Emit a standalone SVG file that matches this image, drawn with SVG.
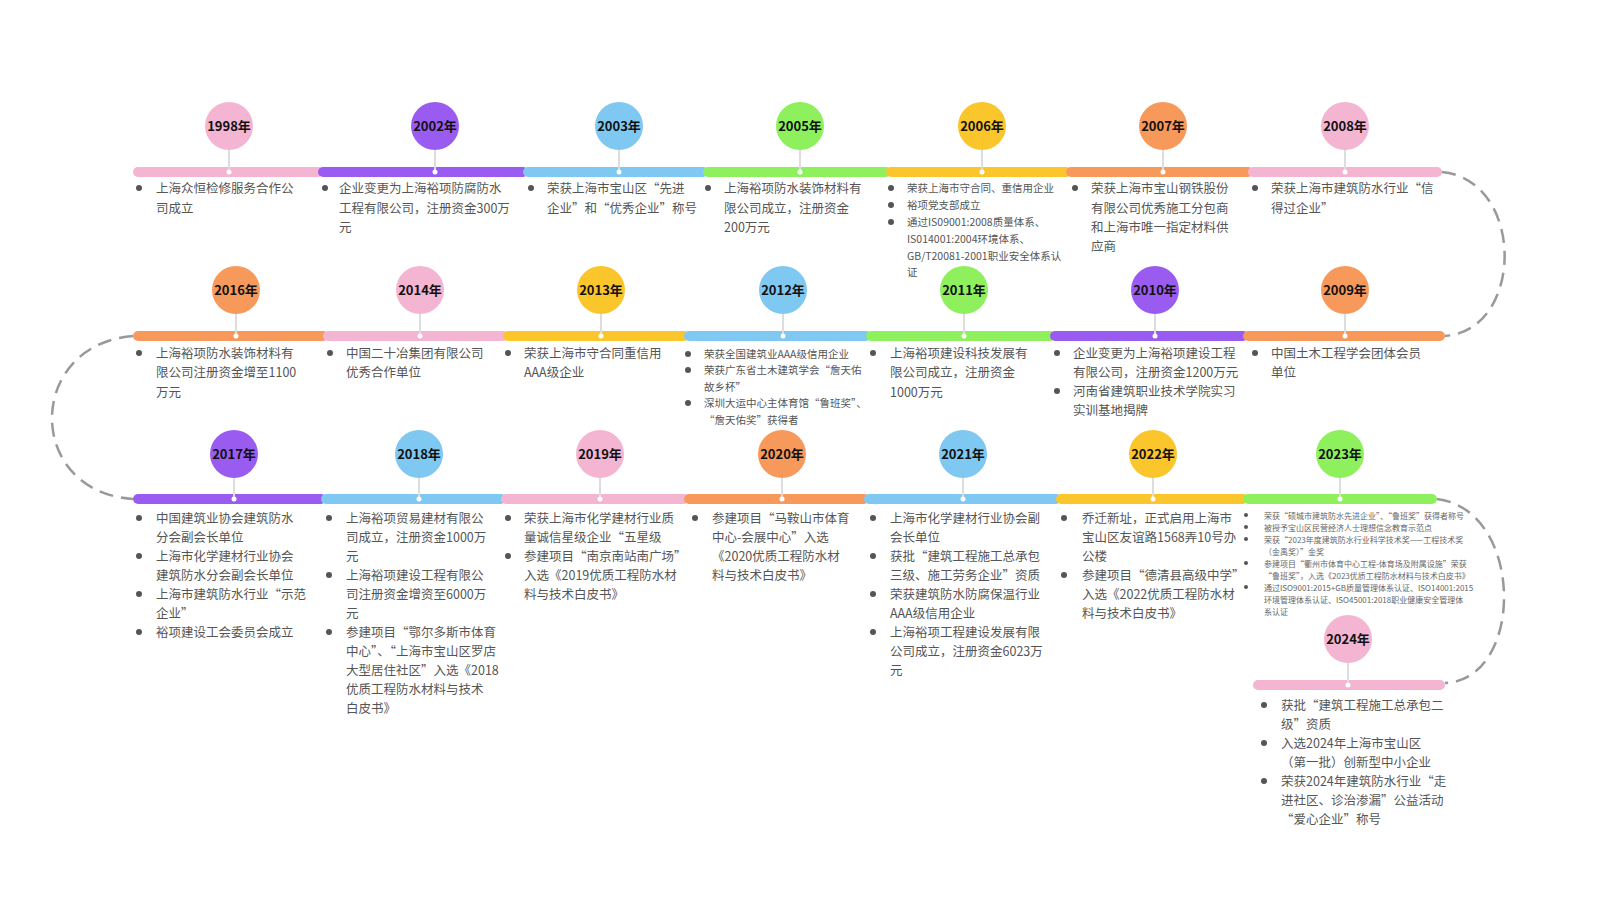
<svg xmlns="http://www.w3.org/2000/svg" width="1600" height="900" viewBox="0 0 1600 900">
<style>
.t{font-family:"Noto Sans CJK SC","Liberation Sans",sans-serif;font-size:12.5px;fill:#555}
.s{font-family:"Noto Sans CJK SC","Liberation Sans",sans-serif;font-size:10.5px;fill:#555}
.xs{font-family:"Noto Sans CJK SC","Liberation Sans",sans-serif;font-size:8px;fill:#666}
.y{font-family:"Noto Sans CJK SC","Liberation Sans",sans-serif;font-size:13px;font-weight:bold;fill:#111;text-anchor:middle}
.b{fill:#555}
.st{stroke:#ddd;stroke-width:2}
.d{fill:#fff}
.pk{fill:#f4b5d2}.pu{fill:#9a5cf0}.bl{fill:#7ec8f2}.gr{fill:#8ef05c}.ye{fill:#fbc52c}.or{fill:#f8995c}
</style>
<rect width="1600" height="900" fill="#fff"/>
<g id="connectors" fill="none" stroke="#999" stroke-width="2.5" stroke-dasharray="14 8">
<path d="M1442 172 C1525 180 1525 330 1445 336"/>
<path d="M133 336 C25 345 25 492 133 499"/>
<path d="M1437 499 C1525 510 1525 680 1445 683"/>
</g>
<g id="bars">
<rect class="pk" x="133" y="167" width="190" height="10" rx="5"/>
<rect class="pu" x="318" y="167" width="210" height="10" rx="5"/>
<rect class="bl" x="523" y="167" width="185" height="10" rx="5"/>
<rect class="gr" x="703" y="167" width="188" height="10" rx="5"/>
<rect class="ye" x="886" y="167" width="185" height="10" rx="5"/>
<rect class="or" x="1066" y="167" width="187" height="10" rx="5"/>
<rect class="pk" x="1248" y="167" width="194" height="10" rx="5"/>
<rect class="or" x="133" y="331" width="195" height="10" rx="5"/>
<rect class="pk" x="323" y="331" width="185" height="10" rx="5"/>
<rect class="ye" x="503" y="331" width="186" height="10" rx="5"/>
<rect class="bl" x="684" y="331" width="187" height="10" rx="5"/>
<rect class="gr" x="866" y="331" width="189" height="10" rx="5"/>
<rect class="pu" x="1050" y="331" width="198" height="10" rx="5"/>
<rect class="or" x="1243" y="331" width="202" height="10" rx="5"/>
<rect class="pu" x="133" y="494" width="193" height="10" rx="5"/>
<rect class="bl" x="321" y="494" width="185" height="10" rx="5"/>
<rect class="pk" x="501" y="494" width="188" height="10" rx="5"/>
<rect class="or" x="684" y="494" width="185" height="10" rx="5"/>
<rect class="bl" x="864" y="494" width="197" height="10" rx="5"/>
<rect class="ye" x="1056" y="494" width="192" height="10" rx="5"/>
<rect class="gr" x="1243" y="494" width="194" height="10" rx="5"/>
<rect class="pk" x="1253" y="680" width="192" height="10" rx="5"/>
</g>
<g id="n1998"><line class="st" x1="229" y1="150" x2="229" y2="172"/><circle class="pk" cx="229" cy="126" r="24"/><circle class="d" cx="229" cy="172" r="2.5"/><text class="y" x="229" y="131">1998年</text>
<circle class="b" cx="139" cy="188" r="3"/><text class="t" x="156" y="193">上海众恒检修服务合作公</text><text class="t" x="156" y="213">司成立</text></g>
<g id="n2002"><line class="st" x1="435" y1="150" x2="435" y2="172"/><circle class="pu" cx="435" cy="126" r="24"/><circle class="d" cx="435" cy="172" r="2.5"/><text class="y" x="435" y="131">2002年</text>
<circle class="b" cx="325" cy="188" r="3"/><text class="t" x="339" y="193">企业变更为上海裕项防腐防水</text><text class="t" x="339" y="213">工程有限公司，注册资金300万</text><text class="t" x="339" y="232">元</text></g>
<g id="n2003"><line class="st" x1="619" y1="150" x2="619" y2="172"/><circle class="bl" cx="619" cy="126" r="24"/><circle class="d" cx="619" cy="172" r="2.5"/><text class="y" x="619" y="131">2003年</text>
<circle class="b" cx="531" cy="188" r="3"/><text class="t" x="547" y="193">荣获上海市宝山区“先进</text><text class="t" x="547" y="213">企业”和“优秀企业”称号</text></g>
<g id="n2005"><line class="st" x1="800" y1="150" x2="800" y2="172"/><circle class="gr" cx="800" cy="126" r="24"/><circle class="d" cx="800" cy="172" r="2.5"/><text class="y" x="800" y="131">2005年</text>
<circle class="b" cx="708" cy="188" r="3"/><text class="t" x="724" y="193">上海裕项防水装饰材料有</text><text class="t" x="724" y="213">限公司成立，注册资金</text><text class="t" x="724" y="232">200万元</text></g>
<g id="n2006"><line class="st" x1="982" y1="150" x2="982" y2="172"/><circle class="ye" cx="982" cy="126" r="24"/><circle class="d" cx="982" cy="172" r="2.5"/><text class="y" x="982" y="131">2006年</text>
<circle class="b" cx="891" cy="188" r="3"/><text class="s" x="907" y="192">荣获上海市守合同、重信用企业</text>
<circle class="b" cx="891" cy="205" r="3"/><text class="s" x="907" y="209">裕项党支部成立</text>
<circle class="b" cx="891" cy="222" r="3"/><text class="s" x="907" y="226">通过IS09001:2008质量体系、</text><text class="s" x="907" y="243">IS014001:2004环境体系、</text><text class="s" x="907" y="260">GB/T20081-2001职业安全体系认</text><text class="s" x="907" y="276">证</text></g>
<g id="n2007"><line class="st" x1="1163" y1="150" x2="1163" y2="172"/><circle class="or" cx="1163" cy="126" r="24"/><circle class="d" cx="1163" cy="172" r="2.5"/><text class="y" x="1163" y="131">2007年</text>
<circle class="b" cx="1075" cy="188" r="3"/><text class="t" x="1091" y="193">荣获上海市宝山钢铁股份</text><text class="t" x="1091" y="213">有限公司优秀施工分包商</text><text class="t" x="1091" y="232">和上海市唯一指定材料供</text><text class="t" x="1091" y="251">应商</text></g>
<g id="n2008"><line class="st" x1="1345" y1="150" x2="1345" y2="172"/><circle class="pk" cx="1345" cy="126" r="24"/><circle class="d" cx="1345" cy="172" r="2.5"/><text class="y" x="1345" y="131">2008年</text>
<circle class="b" cx="1255" cy="188" r="3"/><text class="t" x="1271" y="193">荣获上海市建筑防水行业“信</text><text class="t" x="1271" y="213">得过企业”</text></g>

<g id="n2016"><line class="st" x1="236" y1="314" x2="236" y2="336"/><circle class="or" cx="236" cy="290" r="24"/><circle class="d" cx="236" cy="336" r="2.5"/><text class="y" x="236" y="295">2016年</text>
<circle class="b" cx="139" cy="353" r="3"/><text class="t" x="156" y="358">上海裕项防水装饰材料有</text><text class="t" x="156" y="377">限公司注册资金增至1100</text><text class="t" x="156" y="397">万元</text></g>
<g id="n2014"><line class="st" x1="420" y1="314" x2="420" y2="336"/><circle class="pk" cx="420" cy="290" r="24"/><circle class="d" cx="420" cy="336" r="2.5"/><text class="y" x="420" y="295">2014年</text>
<circle class="b" cx="330" cy="353" r="3"/><text class="t" x="346" y="358">中国二十冶集团有限公司</text><text class="t" x="346" y="377">优秀合作单位</text></g>
<g id="n2013"><line class="st" x1="601" y1="314" x2="601" y2="336"/><circle class="ye" cx="601" cy="290" r="24"/><circle class="d" cx="601" cy="336" r="2.5"/><text class="y" x="601" y="295">2013年</text>
<circle class="b" cx="508" cy="353" r="3"/><text class="t" x="524" y="358">荣获上海市守合同重信用</text><text class="t" x="524" y="377">AAA级企业</text></g>
<g id="n2012"><line class="st" x1="783" y1="314" x2="783" y2="336"/><circle class="bl" cx="783" cy="290" r="24"/><circle class="d" cx="783" cy="336" r="2.5"/><text class="y" x="783" y="295">2012年</text>
<circle class="b" cx="688" cy="354" r="3"/><text class="s" x="704" y="358">荣获全国建筑业AAA级信用企业</text>
<circle class="b" cx="688" cy="370" r="3"/><text class="s" x="704" y="374">荣获广东省土木建筑学会“詹天佑</text><text class="s" x="704" y="391">故乡杯”</text>
<circle class="b" cx="688" cy="403" r="3"/><text class="s" x="704" y="407">深圳大运中心主体育馆“鲁班奖”、</text><text class="s" x="704" y="424">“詹天佑奖”获得者</text></g>
<g id="n2011"><line class="st" x1="964" y1="314" x2="964" y2="336"/><circle class="gr" cx="964" cy="290" r="24"/><circle class="d" cx="964" cy="336" r="2.5"/><text class="y" x="964" y="295">2011年</text>
<circle class="b" cx="873" cy="353" r="3"/><text class="t" x="890" y="358">上海裕项建设科技发展有</text><text class="t" x="890" y="377">限公司成立，注册资金</text><text class="t" x="890" y="397">1000万元</text></g>
<g id="n2010"><line class="st" x1="1155" y1="314" x2="1155" y2="336"/><circle class="pu" cx="1155" cy="290" r="24"/><circle class="d" cx="1155" cy="336" r="2.5"/><text class="y" x="1155" y="295">2010年</text>
<circle class="b" cx="1057" cy="353" r="3"/><text class="t" x="1073" y="358">企业变更为上海裕项建设工程</text><text class="t" x="1073" y="377">有限公司，注册资金1200万元</text>
<circle class="b" cx="1057" cy="391" r="3"/><text class="t" x="1073" y="396">河南省建筑职业技术学院实习</text><text class="t" x="1073" y="415">实训基地揭牌</text></g>
<g id="n2009"><line class="st" x1="1345" y1="314" x2="1345" y2="336"/><circle class="or" cx="1345" cy="290" r="24"/><circle class="d" cx="1345" cy="336" r="2.5"/><text class="y" x="1345" y="295">2009年</text>
<circle class="b" cx="1255" cy="353" r="3"/><text class="t" x="1271" y="358">中国土木工程学会团体会员</text><text class="t" x="1271" y="377">单位</text></g>

<g id="n2017"><line class="st" x1="234" y1="478" x2="234" y2="499"/><circle class="pu" cx="234" cy="454" r="24"/><circle class="d" cx="234" cy="499" r="2.5"/><text class="y" x="234" y="459">2017年</text>
<circle class="b" cx="139" cy="518" r="3"/><text class="t" x="156" y="523">中国建筑业协会建筑防水</text><text class="t" x="156" y="542">分会副会长单位</text>
<circle class="b" cx="139" cy="556" r="3"/><text class="t" x="156" y="561">上海市化学建材行业协会</text><text class="t" x="156" y="580">建筑防水分会副会长单位</text>
<circle class="b" cx="139" cy="594" r="3"/><text class="t" x="156" y="599">上海市建筑防水行业“示范</text><text class="t" x="156" y="618">企业”</text>
<circle class="b" cx="139" cy="632" r="3"/><text class="t" x="156" y="637">裕项建设工会委员会成立</text></g>
<g id="n2018"><line class="st" x1="419" y1="478" x2="419" y2="499"/><circle class="bl" cx="419" cy="454" r="24"/><circle class="d" cx="419" cy="499" r="2.5"/><text class="y" x="419" y="459">2018年</text>
<circle class="b" cx="329" cy="518" r="3"/><text class="t" x="346" y="523">上海裕项贸易建材有限公</text><text class="t" x="346" y="542">司成立，注册资金1000万</text><text class="t" x="346" y="561">元</text>
<circle class="b" cx="329" cy="575" r="3"/><text class="t" x="346" y="580">上海裕项建设工程有限公</text><text class="t" x="346" y="599">司注册资金增资至6000万</text><text class="t" x="346" y="618">元</text>
<circle class="b" cx="329" cy="632" r="3"/><text class="t" x="346" y="637">参建项目“鄂尔多斯市体育</text><text class="t" x="346" y="656">中心”、“上海市宝山区罗店</text><text class="t" x="346" y="675">大型居住社区”入选《2018</text><text class="t" x="346" y="694">优质工程防水材料与技术</text><text class="t" x="346" y="713">白皮书》</text></g>
<g id="n2019"><line class="st" x1="600" y1="478" x2="600" y2="499"/><circle class="pk" cx="600" cy="454" r="24"/><circle class="d" cx="600" cy="499" r="2.5"/><text class="y" x="600" y="459">2019年</text>
<circle class="b" cx="508" cy="518" r="3"/><text class="t" x="524" y="523">荣获上海市化学建材行业质</text><text class="t" x="524" y="542">量诚信星级企业“五星级</text>
<circle class="b" cx="508" cy="556" r="3"/><text class="t" x="524" y="561"> 参建项目“南京南站南广场”</text><text class="t" x="524" y="580">入选《2019优质工程防水材</text><text class="t" x="524" y="599">料与技术白皮书》</text></g>
<g id="n2020"><line class="st" x1="782" y1="478" x2="782" y2="499"/><circle class="or" cx="782" cy="454" r="24"/><circle class="d" cx="782" cy="499" r="2.5"/><text class="y" x="782" y="459">2020年</text>
<circle class="b" cx="695" cy="518" r="3"/><text class="t" x="712" y="523">参建项目“马鞍山市体育</text><text class="t" x="712" y="542">中心-会展中心”入选</text><text class="t" x="712" y="561">《2020优质工程防水材</text><text class="t" x="712" y="580">料与技术白皮书》</text></g>
<g id="n2021"><line class="st" x1="963" y1="478" x2="963" y2="499"/><circle class="bl" cx="963" cy="454" r="24"/><circle class="d" cx="963" cy="499" r="2.5"/><text class="y" x="963" y="459">2021年</text>
<circle class="b" cx="873" cy="518" r="3"/><text class="t" x="890" y="523">上海市化学建材行业协会副</text><text class="t" x="890" y="542">会长单位</text>
<circle class="b" cx="873" cy="556" r="3"/><text class="t" x="890" y="561">获批“建筑工程施工总承包</text><text class="t" x="890" y="580">三级、施工劳务企业”资质</text>
<circle class="b" cx="873" cy="594" r="3"/><text class="t" x="890" y="599">荣获建筑防水防腐保温行业</text><text class="t" x="890" y="618">AAA级信用企业</text>
<circle class="b" cx="873" cy="632" r="3"/><text class="t" x="890" y="637">上海裕项工程建设发展有限</text><text class="t" x="890" y="656">公司成立，注册资金6023万</text><text class="t" x="890" y="675">元</text></g>
<g id="n2022"><line class="st" x1="1153" y1="478" x2="1153" y2="499"/><circle class="ye" cx="1153" cy="454" r="24"/><circle class="d" cx="1153" cy="499" r="2.5"/><text class="y" x="1153" y="459">2022年</text>
<circle class="b" cx="1064" cy="518" r="3"/><text class="t" x="1082" y="523">乔迁新址，正式启用上海市</text><text class="t" x="1082" y="542">宝山区友谊路1568弄10号办</text><text class="t" x="1082" y="561">公楼</text>
<circle class="b" cx="1064" cy="575" r="3"/><text class="t" x="1082" y="580">参建项目“德清县高级中学”</text><text class="t" x="1082" y="599">入选《2022优质工程防水材</text><text class="t" x="1082" y="618">料与技术白皮书》</text></g>
<g id="n2023"><line class="st" x1="1340" y1="478" x2="1340" y2="499"/><circle class="gr" cx="1340" cy="454" r="24"/><circle class="d" cx="1340" cy="499" r="2.5"/><text class="y" x="1340" y="459">2023年</text>
<circle class="b" cx="1246" cy="515" r="2"/><text class="xs" x="1264" y="519">荣获“硕城市建筑防水先进企业”、“鲁班奖”获得者称号</text>
<circle class="b" cx="1246" cy="527" r="2"/><text class="xs" x="1264" y="531">被授予宝山区民营经济人士理想信念教育示范点</text>
<circle class="b" cx="1246" cy="539" r="2"/><text class="xs" x="1264" y="543">荣获“2023年度建筑防水行业科学技术奖——工程技术奖</text><text class="xs" x="1264" y="555">（金禹奖）”金奖</text>
<circle class="b" cx="1246" cy="563" r="2"/><text class="xs" x="1264" y="567">参建项目“衢州市体育中心工程-体育场及附属设施”荣获</text><text class="xs" x="1264" y="579">“鲁班奖”，入选《2023优质工程防水材料与技术白皮书》</text>
<circle class="b" cx="1246" cy="587" r="2"/><text class="xs" x="1264" y="591">通过ISO9001:2015+GB质量管理体系认证、ISO14001:2015</text><text class="xs" x="1264" y="603">环境管理体系认证、ISO45001:2018职业健康安全管理体</text><text class="xs" x="1264" y="615">系认证</text></g>
<g id="n2024"><line class="st" x1="1348" y1="663" x2="1348" y2="685"/><circle class="pk" cx="1348" cy="639" r="24"/><circle class="d" cx="1348" cy="685" r="2.5"/><text class="y" x="1348" y="644">2024年</text>
<circle class="b" cx="1264" cy="705" r="3"/><text class="t" x="1281" y="710">获批“建筑工程施工总承包二</text><text class="t" x="1281" y="729">级”资质</text>
<circle class="b" cx="1264" cy="743" r="3"/><text class="t" x="1281" y="748">入选2024年上海市宝山区</text><text class="t" x="1281" y="767">（第一批）创新型中小企业</text>
<circle class="b" cx="1264" cy="781" r="3"/><text class="t" x="1281" y="786">荣获2024年建筑防水行业“走</text><text class="t" x="1281" y="805">进社区、诊治渗漏”公益活动</text><text class="t" x="1281" y="824">“爱心企业”称号</text></g>
</svg>
